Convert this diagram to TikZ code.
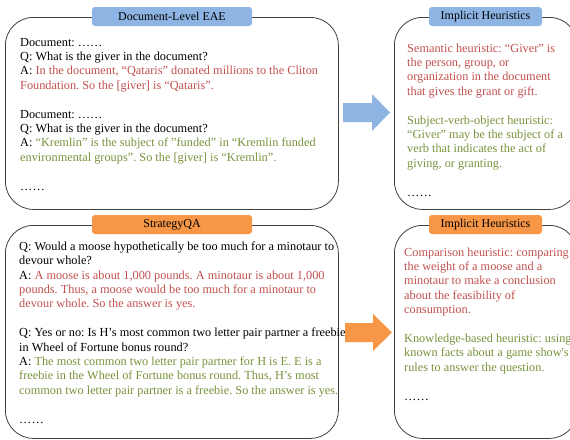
\documentclass[tikz,border=0pt]{standalone}
\usepackage{fontspec}
\setmainfont{Liberation Serif}
\frenchspacing
\definecolor{hred}{HTML}{C0504D}
\definecolor{hgreen}{HTML}{77933C}
\definecolor{lblue}{HTML}{8EB4E3}
\definecolor{lorange}{HTML}{F79646}
\definecolor{edge}{HTML}{404040}
\tikzset{
  panel/.style={draw=edge, line width=0.8pt, rounded corners=28pt, anchor=north west, inner sep=0pt},
  tag/.style={rounded corners=3pt, minimum height=19pt, inner sep=0pt, text=black, font=\fontsize{12pt}{14.4pt}\selectfont\frenchspacing},
  body/.style={anchor=base west, align=left, inner sep=0pt, font=\fontsize{12.3pt}{14.4pt}\selectfont\frenchspacing},
}
\begin{document}
\begin{tikzpicture}[x=1pt,y=-1pt]
\useasboundingbox (0,0) rectangle (570,439);
% panels
\node[panel, minimum width=333pt, minimum height=192pt] (b1) at (5,17) {};
\node[panel, minimum width=183pt, minimum height=192pt] (b2) at (394,17) {};
\node[panel, minimum width=333pt, minimum height=213pt] (b3) at (5,225) {};
\node[panel, minimum width=183pt, minimum height=213pt] (b4) at (394,225) {};
% tags
\node[tag, fill=lblue, minimum width=160pt] (l1) at (172,16.5) {Document-Level EAE};
\node[tag, fill=lblue, minimum width=113pt] (l2) at (485.5,16.5) {Implicit Heuristics};
\node[tag, fill=lorange, minimum width=160pt] (l3) at (172,224.5) {StrategyQA};
\node[tag, fill=lorange, minimum width=113pt] (l4) at (485.5,224.5) {Implicit Heuristics};
% arrows
\fill[lblue] (343,103) -- (372,103) -- (372,94) -- (390,112.5) -- (372,131) -- (372,122) -- (343,122) -- cycle;
\fill[lorange] (345,323) -- (373,323) -- (373,314) -- (392,332.5) -- (373,351) -- (373,342) -- (345,342) -- cycle;
% texts (anchored at the baseline of their last line)
\node[body] (t1) at (20,190) {Document: ……\\
Q: What is the giver in the document?\\
A: \textcolor{hred}{In the document, “Qataris” donated millions to the Cliton}\\
\textcolor{hred}{Foundation. So the [giver] is “Qataris”.}\\[14.4pt]
Document: ……\\
Q: What is the giver in the document?\\
A: \textcolor{hgreen}{“Kremlin” is the subject of ”funded” in “Kremlin funded}\\
\textcolor{hgreen}{environmental groups”. So the [giver] is “Kremlin”.}\\[14.4pt]
……};
\node[body] (t2) at (407,196) {\textcolor{hred}{Semantic heuristic: “Giver” is}\\
\textcolor{hred}{the person, group, or}\\
\textcolor{hred}{organization in the document}\\
\textcolor{hred}{that gives the grant or gift.}\\[14.4pt]
\textcolor{hgreen}{Subject-verb-object heuristic:}\\
\textcolor{hgreen}{“Giver” may be the subject of a}\\
\textcolor{hgreen}{verb that indicates the act of}\\
\textcolor{hgreen}{giving, or granting.}\\[14.4pt]
……};
\node[body] (t3) at (19,423) {Q: Would a moose hypothetically be too much for a minotaur to\\
devour whole?\\
A: \textcolor{hred}{A moose is about 1,000 pounds. A minotaur is about 1,000}\\
\textcolor{hred}{pounds. Thus, a moose would be too much for a minotaur to}\\
\textcolor{hred}{devour whole. So the answer is yes.}\\[14.4pt]
Q: Yes or no: Is H’s most common two letter pair partner a freebie\\
in Wheel of Fortune bonus round?\\
A: \textcolor{hgreen}{The most common two letter pair partner for H is E. E is a}\\
\textcolor{hgreen}{freebie in the Wheel of Fortune bonus round. Thus, H’s most}\\
\textcolor{hgreen}{common two letter pair partner is a freebie. So the answer is yes.}\\[14.4pt]
……};
\node[body] (t4) at (404,400) {\textcolor{hred}{Comparison heuristic: comparing}\\
\textcolor{hred}{the weight of a moose and a}\\
\textcolor{hred}{minotaur to make a conclusion}\\
\textcolor{hred}{about the feasibility of}\\
\textcolor{hred}{consumption.}\\[14.4pt]
\textcolor{hgreen}{Knowledge-based heuristic: using}\\
\textcolor{hgreen}{known facts about a game show\textquotesingle s}\\
\textcolor{hgreen}{rules to answer the question.}\\[14.4pt]
……};
\end{tikzpicture}
\end{document}
